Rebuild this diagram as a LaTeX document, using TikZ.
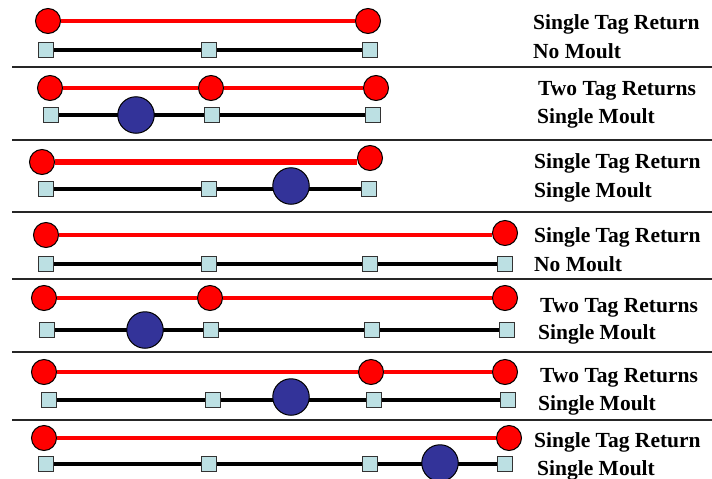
\documentclass[tikz,border=0pt]{standalone}
\usepackage{fontspec}
\setmainfont{Liberation Serif}
\begin{document}
\begin{tikzpicture}[x=1pt,y=-1pt,
  tag/.style={circle,draw=black,line width=1pt,fill=red,minimum size=25pt,inner sep=0pt},
  stn/.style={rectangle,draw=black!80,line width=0.9pt,fill={rgb,255:red,188;green,224;blue,227},minimum size=15pt,inner sep=0pt},
  moult/.style={circle,draw=black,line width=1pt,fill={rgb,255:red,51;green,51;blue,153},minimum size=36.5pt,inner sep=0pt},
  redlink/.style={draw=red,line width=3.4pt},
  blklink/.style={draw=black,line width=3.4pt},
  divider/.style={draw=black!85,line width=2.8pt},
  lbl/.style={anchor=base west,inner sep=0pt,font=\fontsize{21.5}{26}\selectfont\bfseries}]
\useasboundingbox[fill=white] (0,0) rectangle (712,479);
% dividers
\foreach \yy in {67,140,212,279,352,420}{\draw[divider] (12,\yy) -- (712,\yy);}

% Row 1
\node[tag] (r11) at (48,21) {};
\node[tag] (r12) at (368,21) {};
\node[stn] (s11) at (46,50) {};
\node[stn] (s12) at (209,50) {};
\node[stn] (s13) at (370,50) {};
\draw[redlink] (r11) -- (r12);
\draw[blklink] (s11) -- (s12);
\draw[blklink] (s12) -- (s13);
\node[lbl] (t11) at (533,29) {Single Tag Return};
\node[lbl] (t12) at (533,58) {No Moult};

% Row 2
\node[tag] (r21) at (50,88) {};
\node[tag] (r22) at (211,88) {};
\node[tag] (r23) at (376,88) {};
\node[stn] (s21) at (51,115) {};
\node[stn] (s22) at (212,115) {};
\node[stn] (s23) at (373,115) {};
\draw[redlink] (r21) -- (r22);
\draw[redlink] (r22) -- (r23);
\draw[blklink] (s21) -- (s22);
\draw[blklink] (s22) -- (s23);
\node[moult] (m2) at (136,115) {};
\node[lbl] (t21) at (538,95) {Two Tag Returns};
\node[lbl] (t22) at (537,123) {Single Moult};

% Row 3
\node[tag] (r31) at (42,162) {};
\node[tag] (r32) at (370,158) {};
\node[stn] (s31) at (46,189) {};
\node[stn] (s32) at (209,189) {};
\node[stn] (s33) at (369,189) {};
\draw[redlink,line width=5.5pt] (r31.east) -- (r32.west |- r31.east);
\draw[blklink] (s31) -- (s32);
\draw[blklink] (s32) -- (s33);
\node[moult] (m3) at (291,186) {};
\node[lbl] (t31) at (534,168) {Single Tag Return};
\node[lbl] (t32) at (534,197) {Single Moult};

% Row 4
\node[tag] (r41) at (46,235) {};
\node[tag] (r42) at (505,233) {};
\node[stn] (s41) at (46,264) {};
\node[stn] (s42) at (209,264) {};
\node[stn] (s43) at (370,264) {};
\node[stn] (s44) at (505,264) {};
\draw[redlink] (r41.east) -- (r42.west |- r41.east);
\draw[blklink] (s41) -- (s42);
\draw[blklink] (s42) -- (s43);
\draw[blklink] (s43) -- (s44);
\node[lbl] (t41) at (534,242) {Single Tag Return};
\node[lbl] (t42) at (534,271) {No Moult};

% Row 5
\node[tag] (r51) at (44,298) {};
\node[tag] (r52) at (210,298) {};
\node[tag] (r53) at (505,298) {};
\node[stn] (s51) at (47,330) {};
\node[stn] (s52) at (211,330) {};
\node[stn] (s53) at (372,330) {};
\node[stn] (s54) at (507,330) {};
\draw[redlink] (r51) -- (r52);
\draw[redlink] (r52) -- (r53);
\draw[blklink] (s51) -- (s52);
\draw[blklink] (s52) -- (s53);
\draw[blklink] (s53) -- (s54);
\node[moult] (m5) at (145,330) {};
\node[lbl] (t51) at (540,312) {Two Tag Returns};
\node[lbl] (t52) at (538,339) {Single Moult};

% Row 6
\node[tag] (r61) at (44,372) {};
\node[tag] (r62) at (371,372) {};
\node[tag] (r63) at (505,372) {};
\node[stn] (s61) at (49,400) {};
\node[stn] (s62) at (213,400) {};
\node[stn] (s63) at (374,400) {};
\node[stn] (s64) at (508,400) {};
\draw[redlink] (r61) -- (r62);
\draw[redlink] (r62) -- (r63);
\draw[blklink] (s61) -- (s62);
\draw[blklink] (s62) -- (s63);
\draw[blklink] (s63) -- (s64);
\node[moult] (m6) at (291,397) {};
\node[lbl] (t61) at (540,382) {Two Tag Returns};
\node[lbl] (t62) at (538,410) {Single Moult};

% Row 7
\node[tag] (r71) at (44,438) {};
\node[tag] (r72) at (509,438) {};
\node[stn] (s71) at (46,464) {};
\node[stn] (s72) at (209,464) {};
\node[stn] (s73) at (370,464) {};
\node[stn] (s74) at (505,464) {};
\draw[redlink] (r71) -- (r72);
\draw[blklink] (s71) -- (s72);
\draw[blklink] (s72) -- (s73);
\draw[blklink] (s73) -- (s74);
\node[moult] (m7) at (440,463) {};
\node[lbl] (t71) at (534,447) {Single Tag Return};
\node[lbl] (t72) at (537,475) {Single Moult};
\end{tikzpicture}
\end{document}
